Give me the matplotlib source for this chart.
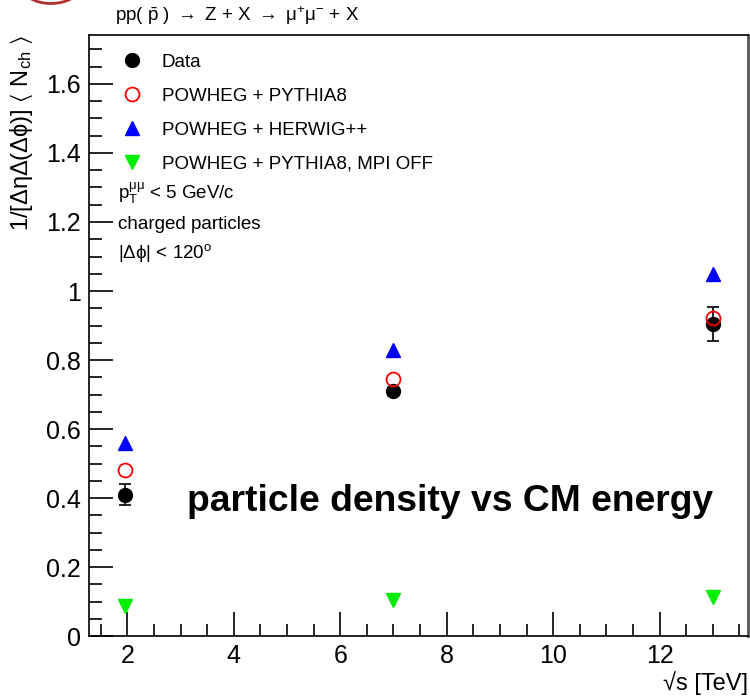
import numpy as np
import matplotlib
matplotlib.use('Agg')
from matplotlib import pyplot as plt
from matplotlib.patches import Arc
from matplotlib.ticker import MultipleLocator

plt.rcParams['font.family'] = ['Liberation Sans', 'DejaVu Sans']
plt.rcParams['mathtext.fontset'] = 'custom'
plt.rcParams['mathtext.rm'] = 'Liberation Sans'
plt.rcParams['mathtext.it'] = 'Liberation Sans'
plt.rcParams['mathtext.sf'] = 'Liberation Sans'

# Centre-of-mass energies (TeV) and <N_ch> densities
sqrt_s = [1.96, 7.0, 13.0]
data = [0.41, 0.71, 0.905]
data_err = [0.03, 0.01, 0.05]
powheg_pythia8 = [0.481, 0.745, 0.922]
powheg_herwig = [0.56, 0.83, 1.05]
powheg_pythia8_nompi = [0.087, 0.105, 0.112]

fig = plt.figure(figsize=(7.5, 7.0), dpi=100)
ax = fig.add_axes([0.1187, 0.0914, 0.8786, 0.8586])
ax.set_xlim(1.28, 13.66)
ax.set_ylim(0, 1.742)

h_data = ax.errorbar(sqrt_s, data, yerr=data_err, fmt='o', color='black', ms=10,
                     elinewidth=1.2, capsize=4, capthick=1.2, zorder=4)
h_py8, = ax.plot(sqrt_s, powheg_pythia8, 'o', ms=10, mfc='none', mec='red',
                 mew=1.3, zorder=5)
h_hw, = ax.plot(sqrt_s, powheg_herwig, '^', ms=10, color='blue', mec='blue')
h_nompi, = ax.plot(sqrt_s, powheg_pythia8_nompi, 'v', ms=10, color='#00ee00',
                   mec='#00ee00')

# ROOT-style axes: inward ticks on left and bottom only
ax.xaxis.set_major_locator(MultipleLocator(2))
ax.xaxis.set_minor_locator(MultipleLocator(0.5))
ax.yaxis.set_minor_locator(MultipleLocator(0.05))
ax.tick_params(which='both', direction='in', top=False, right=False, width=1.2)
ax.tick_params(which='major', length=17, labelsize=18, pad=6)
ax.tick_params(which='minor', length=9)
ax.set_yticks([0, 0.2, 0.4, 0.6, 0.8, 1.0, 1.2, 1.4, 1.6])
ax.set_yticklabels(['0', '0.2', '0.4', '0.6', '0.8', '1', '1.2', '1.4', '1.6'])
for s in ax.spines.values():
    s.set_linewidth(1.2)
ax.spines['right'].set_color('#555555')
ax.spines['right'].set_linewidth(2.0)

ax.legend([h_data[0], h_py8, h_hw, h_nompi],
          ['Data', 'POWHEG + PYTHIA8', 'POWHEG + HERWIG++',
           'POWHEG + PYTHIA8, MPI OFF'],
          loc='upper left', bbox_to_anchor=(0.0, 1.0), frameon=False,
          fontsize=13.5, handletextpad=0.3, labelspacing=0.9,
          borderaxespad=0.0, borderpad=0.99, handlelength=2.6, numpoints=1)

ax.text(0.044, 0.736, r'p$_{\mathregular{T}}^{\mathregular{\mu\mu}}$ < 5 GeV/c',
        transform=ax.transAxes, fontsize=13.5, va='center')
ax.text(0.044, 0.684, 'charged particles', transform=ax.transAxes,
        fontsize=13.5, va='center')
ax.text(0.044, 0.638, r'|$\mathregular{\Delta\phi}$| < 120$^{\mathregular{o}}$',
        transform=ax.transAxes, fontsize=13.5, va='center')

ax.text(0.148, 0.224, 'particle density vs CM energy', transform=ax.transAxes,
        fontsize=26.8, fontweight='bold', va='center')

ax.set_xlabel('√s [TeV]', fontsize=17, loc='right', labelpad=2)
ax.set_ylabel(r'1/[$\mathregular{\Delta\eta\Delta(\Delta\phi)}$] $\mathregular{\langle}$ N$_{\mathregular{ch}}$ $\mathregular{\rangle}$',
              fontsize=17, loc='top', labelpad=8)

fig.text(0.153, 0.978, 'pp( ' + r'$\mathregular{\bar{p}}$' + ' ) '
         + r'$\mathregular{\rightarrow}$' + ' Z + X '
         + r'$\mathregular{\rightarrow}$' + ' '
         + r'$\mathregular{\mu^{+}\mu^{-}}$' + ' + X',
         fontsize=13.5, va='center')

# fragment of a logo ring in the top-left corner
fig.patches.append(Arc((0.068, 1.02), 0.078, 0.05, theta1=180, theta2=360,
                       color='#b03030', lw=2.0, transform=fig.transFigure,
                       figure=fig))

fig.savefig('out.png', dpi=100)
